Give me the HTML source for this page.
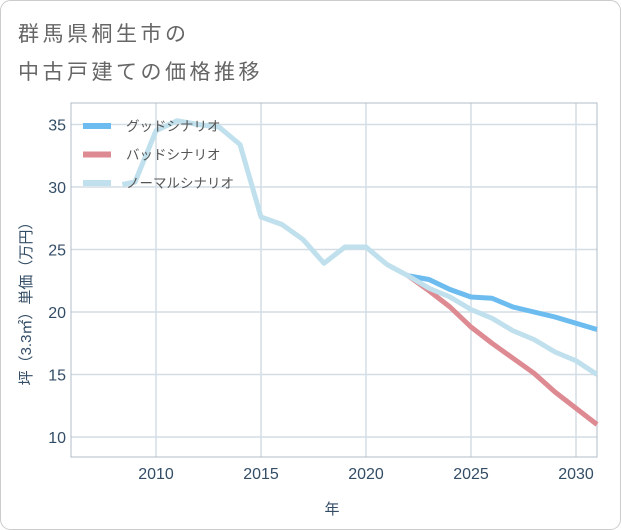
<!DOCTYPE html>
<html><head><meta charset="utf-8"><style>
html,body{margin:0;padding:0;background:#fff;}
svg{display:block;font-family:"Liberation Sans","Noto Sans CJK JP",sans-serif;}
</style></head><body>
<svg id="chart" width="621" height="530" xmlns="http://www.w3.org/2000/svg">
<rect x="0.5" y="0.5" width="620" height="529" rx="10" fill="#fff" stroke="#ccc"/>
<text x="18" y="41" font-size="21" fill="#666" letter-spacing="3.5">群馬県桐生市の</text>
<text x="18" y="79" font-size="21" fill="#666" letter-spacing="3.5">中古戸建ての価格推移</text>
<g id="grid"></g>
<g id="axes"></g>
<g id="series"></g>
<g id="legend"></g>
<text transform="translate(31,300) rotate(-90)" text-anchor="middle" font-size="15" fill="#334d66">坪（3.3㎡）単価（万円）</text>
<text x="332" y="514" text-anchor="middle" font-size="15" fill="#334d66">年</text>
</svg>
<script>
const xTicks = [2010, 2015, 2020, 2025, 2030];
const yTicks = [10, 15, 20, 25, 30, 35];
const normalYears = [2008.4, 2009, 2010, 2011, 2012, 2013, 2014, 2015, 2016, 2017, 2018, 2019, 2020, 2021, 2022, 2023, 2024, 2025, 2026, 2027, 2028, 2029, 2030, 2031];
const normalValues = [30.2, 30.4, 34.5, 35.3, 35.0, 34.8, 33.4, 27.6, 27.0, 25.8, 23.9, 25.2, 25.2, 23.8, 22.9, 21.9, 21.2, 20.2, 19.5, 18.5, 17.8, 16.8, 16.1, 15.0];
const scenYears = [2022, 2023, 2024, 2025, 2026, 2027, 2028, 2029, 2030, 2031];
const goodValues = [22.9, 22.6, 21.8, 21.2, 21.1, 20.4, 20.0, 19.6, 19.1, 18.6];
const badValues = [22.9, 21.7, 20.4, 18.8, 17.5, 16.3, 15.1, 13.6, 12.3, 11.0];
const legendLabels = ["グッドシナリオ", "バッドシナリオ", "ノーマルシナリオ"];

const L = 71, R = 597, T = 103, B = 457;
const xs = y => 156 + (y - 2010) * 21;
const ys = v => 437 - (v - 10) * 12.5;
const NS = "http://www.w3.org/2000/svg";
function mk(tag, attrs, parent) {
  const e = document.createElementNS(NS, tag);
  for (const k in attrs) e.setAttribute(k, attrs[k]);
  parent.appendChild(e);
  return e;
}
const grid = document.getElementById('grid');
const axes = document.getElementById('axes');
const series = document.getElementById('series');
const legend = document.getElementById('legend');

xTicks.forEach(t => {
  const l = mk('line', {x1: xs(t), x2: xs(t), y1: T, y2: B, stroke: '#d3dde6', 'stroke-width': 1.5}, grid);
  
  
  const tx = mk('text', {x: xs(t), y: 479, 'text-anchor': 'middle', 'font-size': 16, fill: '#334d66'}, axes);
  tx.textContent = t;
  
  
});
yTicks.forEach(t => {
  const l = mk('line', {x1: L, x2: R, y1: ys(t), y2: ys(t), stroke: '#d3dde6', 'stroke-width': 1.5}, grid);
  
  
  const tx = mk('text', {x: 66, y: ys(t) + 6, 'text-anchor': 'end', 'font-size': 16, fill: '#334d66'}, axes);
  tx.textContent = t;
  
  
});
const fr = mk('rect', {x: L, y: T, width: R - L, height: B - T, fill: 'none', stroke: '#b0bcc8', 'stroke-width': 1}, axes);



function line(yrs, vals, color, name) {
  const d = yrs.map((y, i) => (i ? 'L' : 'M') + xs(y) + ',' + ys(vals[i])).join(' ');
  const p = mk('path', {d: d, fill: 'none', stroke: color, 'stroke-width': 5, 'stroke-linejoin': 'round'}, series);
  
  
}
line(scenYears, goodValues, '#6cbcf0', 'good-scenario-line');
line(scenYears, badValues, '#de8a92', 'bad-scenario-line');
line(normalYears, normalValues, '#bfe0ec', 'normal-scenario-line');

const lcolors = ['#6cbcf0', '#de8a92', '#bfe0ec'];
legendLabels.forEach((lab, i) => {
  const y = 126 + i * 28.5;
  const l = mk('line', {x1: 83, x2: 111, y1: y, y2: y, stroke: lcolors[i], 'stroke-width': 6}, legend);
  
  
  const t = mk('text', {x: 126, y: y + 5, 'font-size': 13.5, fill: '#555'}, legend);
  t.textContent = lab;
  
  
});
</script>
</body></html>
